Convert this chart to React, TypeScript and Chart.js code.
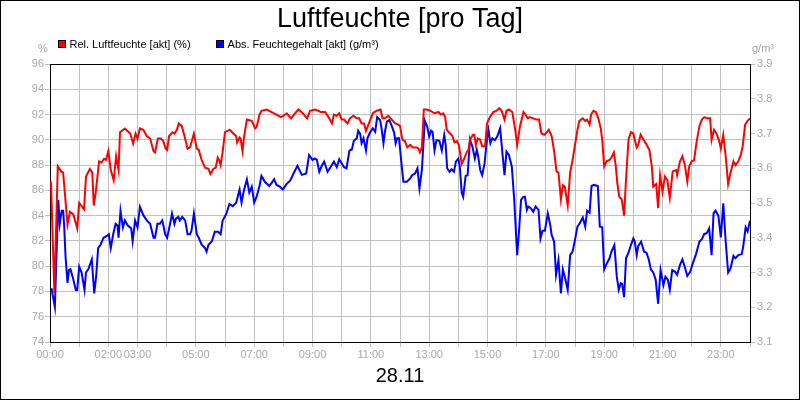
import { useEffect, useRef } from 'react';
import Chart from 'chart.js/auto';

// time of day in minutes
const relTimes = [
  2, 9, 16, 23, 27, 36, 41, 48, 56, 60, 70, 74, 82, 87, 90, 94, 101, 106, 111, 115,
  120, 125, 131, 136, 141, 144, 154, 165, 171, 176, 180, 185, 192, 199, 206, 213, 216, 222, 228, 233,
  238, 241, 245, 252, 256, 261, 265, 271, 276, 283, 288, 296, 302, 306, 312, 319, 326, 330, 336, 341,
  345, 348, 351, 355, 360, 370, 377, 383, 385, 390, 392, 396, 399, 405, 415, 422, 425, 431, 435, 446,
  456, 466, 475, 480, 487, 496, 504, 511, 520, 529, 535, 545, 552, 557, 566, 573, 580, 584, 590, 595,
  600, 605, 612, 617, 624, 631, 636, 641, 646, 650, 657, 664, 672, 680, 684, 689, 696, 703, 710, 717,
  720, 725, 730, 735, 741, 747, 754, 758, 761, 765, 769, 775, 782, 791, 799, 804, 809, 813, 816, 823,
  828, 832, 837, 841, 847, 852, 857, 861, 864, 870, 873, 876, 880, 885, 889, 895, 899, 905, 912, 919,
  924, 929, 935, 939, 944, 951, 957, 961, 967, 974, 978, 983, 987, 994, 1001, 1006, 1011, 1017, 1022, 1026,
  1032, 1037, 1042, 1046, 1051, 1055, 1059, 1065, 1070, 1075, 1080, 1085, 1089, 1096, 1101, 1105, 1110, 1113, 1118, 1123,
  1128, 1133, 1136, 1140, 1145, 1151, 1155, 1160, 1164, 1167, 1171, 1176, 1181, 1185, 1190, 1195, 1200, 1203, 1207, 1210,
  1215, 1221, 1226, 1233, 1238, 1241, 1247, 1251, 1255, 1260, 1265, 1270, 1275, 1281, 1288, 1290, 1296, 1301, 1306, 1311,
  1315, 1320, 1325, 1330, 1336, 1341, 1346, 1352, 1358, 1361, 1366, 1371, 1376, 1380, 1385, 1390, 1395, 1400, 1406, 1410,
  1416, 1421, 1425, 1430, 1435, 1440,
];
const relValues = [
  86.7, 77.9, 87.9, 87.5, 87.4, 83.3, 84.3, 84.1, 83.0, 85.0, 84.5, 87.1, 87.7, 87.4, 84.8, 85.8, 88.3, 88.2, 88.5, 88.4,
  89.1, 87.6, 86.8, 88.7, 87.6, 90.6, 90.9, 90.5, 89.7, 90.5, 90.1, 90.9, 90.8, 90.3, 90.1, 89.1, 89.0, 90.1, 90.1, 89.9,
  89.3, 89.2, 90.3, 90.6, 90.5, 90.8, 91.3, 91.1, 90.4, 89.3, 89.4, 90.5, 89.3, 89.2, 88.4, 87.8, 87.7, 87.3, 87.7, 87.8,
  88.6, 88.4, 88.0, 89.0, 90.6, 90.8, 90.5, 90.3, 89.8, 90.2, 90.1, 89.1, 90.2, 91.6, 91.5, 90.9, 91.0, 92.0, 92.3, 92.4,
  92.2, 92.0, 91.8, 91.9, 92.1, 91.7, 92.1, 92.4, 92.1, 91.7, 92.3, 92.4, 92.3, 92.2, 92.2, 91.8, 91.3, 92.0, 91.9, 92.1,
  91.6, 91.6, 91.3, 91.7, 91.9, 91.7, 91.7, 91.3, 91.3, 90.7, 91.4, 92.1, 92.3, 92.4, 91.7, 91.7, 91.9, 91.6, 91.3, 91.2,
  91.1, 90.0, 89.9, 89.4, 89.6, 89.4, 89.4, 89.3, 89.0, 89.4, 92.4, 92.4, 92.3, 92.1, 92.2, 92.0, 92.1, 91.8, 90.8, 90.5,
  90.3, 89.8, 89.9, 89.6, 88.1, 88.5, 89.0, 89.2, 90.0, 90.4, 90.4, 89.6, 90.1, 90.0, 89.5, 89.5, 91.3, 91.8, 92.2, 92.3,
  92.5, 92.3, 91.6, 92.3, 92.4, 92.2, 90.8, 89.6, 91.1, 92.2, 92.0, 91.7, 91.8, 91.7, 91.6, 91.6, 90.5, 90.4, 90.6, 90.8,
  90.3, 89.1, 87.5, 87.4, 85.3, 86.4, 86.3, 84.8, 87.4, 88.4, 89.6, 90.8, 91.5, 91.7, 91.5, 91.6, 91.2, 92.0, 92.3, 92.2,
  91.7, 90.9, 90.0, 87.9, 88.3, 88.4, 88.6, 89.0, 87.9, 86.6, 85.5, 85.3, 84.0, 86.9, 90.0, 90.6, 90.5, 90.0, 89.4, 89.6,
  90.4, 90.0, 89.7, 89.2, 87.9, 86.3, 86.5, 84.6, 87.2, 85.9, 87.1, 86.8, 85.4, 87.5, 87.6, 87.2, 88.3, 88.7, 88.0, 86.7,
  87.9, 88.3, 88.4, 89.8, 91.1, 91.6, 91.8, 91.7, 91.7, 90.0, 90.8, 90.5, 90.0, 89.3, 90.4, 88.7, 86.5, 87.4, 88.3, 88.0,
  88.3, 88.8, 89.5, 91.2, 91.5, 91.7,
];

const absTimes = [
  3, 10, 17, 20, 24, 27, 29, 32, 36, 39, 42, 48, 53, 56, 60, 65, 71, 74, 79, 86,
  91, 95, 99, 104, 110, 117, 121, 125, 130, 135, 139, 141, 145, 150, 154, 160, 167, 170, 175, 180,
  185, 192, 199, 206, 213, 216, 221, 226, 231, 237, 241, 247, 251, 256, 259, 264, 267, 272, 278, 283,
  288, 291, 296, 302, 306, 312, 319, 322, 326, 333, 339, 346, 351, 355, 363, 369, 376, 383, 390, 394,
  399, 405, 410, 415, 420, 425, 431, 435, 442, 451, 456, 461, 466, 473, 479, 487, 494, 501, 509, 518,
  527, 533, 540, 545, 549, 554, 559, 564, 571, 577, 584, 590, 595, 600, 605, 610, 616, 621, 625, 631,
  634, 638, 641, 645, 650, 653, 658, 664, 669, 673, 679, 682, 686, 689, 693, 698, 703, 708, 711, 714,
  718, 720, 723, 727, 734, 741, 745, 751, 756, 760, 765, 771, 776, 780, 784, 787, 791, 795, 801, 806,
  811, 814, 817, 822, 826, 831, 835, 840, 843, 847, 850, 855, 859, 864, 869, 874, 878, 881, 885, 889,
  894, 898, 902, 906, 910, 915, 920, 926, 930, 935, 939, 944, 950, 955, 961, 965, 969, 974, 977, 981,
  984, 989, 994, 999, 1005, 1009, 1013, 1018, 1024, 1029, 1032, 1037, 1041, 1046, 1051, 1055, 1059, 1065, 1070, 1075,
  1080, 1085, 1090, 1096, 1101, 1105, 1110, 1114, 1119, 1127, 1131, 1136, 1140, 1145, 1151, 1155, 1161, 1166, 1170, 1174,
  1177, 1181, 1185, 1190, 1195, 1200, 1203, 1207, 1210, 1216, 1222, 1227, 1232, 1236, 1241, 1246, 1251, 1256, 1262, 1266,
  1271, 1275, 1280, 1286, 1290, 1296, 1301, 1306, 1311, 1317, 1322, 1329, 1336, 1341, 1346, 1351, 1356, 1361, 1365, 1369,
  1375, 1380, 1385, 1390, 1395, 1400, 1406, 1410, 1416, 1423, 1426, 1431, 1435, 1440,
];
const absValues = [
  3.255, 3.2, 3.509, 3.44, 3.478, 3.478, 3.44, 3.345, 3.27, 3.307, 3.31, 3.28, 3.25, 3.25, 3.317, 3.3, 3.25, 3.3, 3.31, 3.338,
  3.24, 3.29, 3.37, 3.38, 3.4, 3.405, 3.41, 3.37, 3.41, 3.44, 3.435, 3.4, 3.478, 3.43, 3.45, 3.435, 3.427, 3.39, 3.45, 3.43,
  3.489, 3.465, 3.45, 3.44, 3.4, 3.4, 3.44, 3.44, 3.45, 3.41, 3.4, 3.44, 3.47, 3.44, 3.455, 3.46, 3.45, 3.46, 3.45, 3.41,
  3.41, 3.42, 3.47, 3.41, 3.4, 3.38, 3.37, 3.36, 3.38, 3.39, 3.417, 3.417, 3.41, 3.449, 3.47, 3.497, 3.491, 3.501, 3.539, 3.501,
  3.537, 3.568, 3.53, 3.547, 3.501, 3.518, 3.549, 3.578, 3.561, 3.549, 3.558, 3.568, 3.552, 3.547, 3.539, 3.555, 3.564, 3.585, 3.607, 3.581,
  3.585, 3.638, 3.624, 3.628, 3.624, 3.59, 3.607, 3.619, 3.59, 3.603, 3.619, 3.603, 3.626, 3.614, 3.603, 3.6, 3.651, 3.654, 3.679, 3.686,
  3.708, 3.699, 3.672, 3.686, 3.651, 3.686, 3.702, 3.715, 3.705, 3.747, 3.739, 3.715, 3.672, 3.705, 3.734, 3.739, 3.722, 3.702, 3.672, 3.686,
  3.686, 3.657, 3.614, 3.561, 3.561, 3.571, 3.58, 3.585, 3.6, 3.542, 3.595, 3.737, 3.72, 3.691, 3.708, 3.705, 3.651, 3.681, 3.679, 3.651,
  3.696, 3.667, 3.6, 3.59, 3.597, 3.59, 3.619, 3.628, 3.605, 3.53, 3.518, 3.578, 3.58, 3.683, 3.662, 3.628, 3.653, 3.633, 3.595, 3.58,
  3.614, 3.672, 3.71, 3.672, 3.686, 3.681, 3.691, 3.715, 3.654, 3.58, 3.648, 3.638, 3.605, 3.509, 3.35, 3.422, 3.509, 3.518, 3.518, 3.48,
  3.49, 3.485, 3.475, 3.49, 3.48, 3.398, 3.42, 3.42, 3.47, 3.437, 3.408, 3.389, 3.293, 3.336, 3.24, 3.309, 3.288, 3.25, 3.35, 3.36,
  3.394, 3.432, 3.442, 3.459, 3.432, 3.478, 3.472, 3.549, 3.552, 3.549, 3.432, 3.43, 3.309, 3.325, 3.341, 3.36, 3.379, 3.288, 3.25, 3.269,
  3.267, 3.229, 3.341, 3.357, 3.379, 3.398, 3.389, 3.35, 3.376, 3.389, 3.36, 3.357, 3.336, 3.309, 3.3, 3.279, 3.21, 3.307, 3.264, 3.288,
  3.279, 3.25, 3.307, 3.302, 3.293, 3.322, 3.338, 3.315, 3.29, 3.302, 3.325, 3.353, 3.389, 3.396, 3.411, 3.413, 3.427, 3.35, 3.47, 3.478,
  3.463, 3.401, 3.499, 3.389, 3.3, 3.312, 3.348, 3.341, 3.35, 3.353, 3.374, 3.43, 3.418, 3.449,
];

// hours that carry a label on the time axis
const labeledHours = [0, 2, 3, 5, 7, 9, 11, 13, 15, 17, 19, 21, 23];

const TITLE = 'Luftfeuchte [pro Tag]';
const DAY = '28.11';
const REL_LABEL = 'Rel. Luftfeuchte [akt] (%)';
const ABS_LABEL = 'Abs. Feuchtegehalt [akt] (g/m³)';
const LEFT_UNIT = '%';
const RIGHT_UNIT = 'g/m³';

const FONT = '"Liberation Sans", Arial, sans-serif';
const TICK_GRAY = '#a8a8a8';
const GRID_GRAY = '#c0c0c0';

const decorPlugin = {
  id: 'decor',
  afterDraw(chart: any) {
    const { ctx, chartArea, width, height } = chart;
    ctx.save();
    // outer frame and top edge of the plot
    ctx.strokeStyle = '#000';
    ctx.lineWidth = 1;
    ctx.strokeRect(0.5, 0.5, width - 1, height - 1);
    ctx.beginPath();
    ctx.moveTo(chartArea.left, chartArea.top + 0.5);
    ctx.lineTo(chartArea.right, chartArea.top + 0.5);
    ctx.stroke();

    ctx.fillStyle = '#000';
    ctx.textAlign = 'center';
    ctx.textBaseline = 'alphabetic';
    ctx.font = `27px ${FONT}`;
    ctx.fillText(TITLE, width / 2, 27);

    // legend
    ctx.font = `11px ${FONT}`;
    ctx.textAlign = 'left';
    ctx.textBaseline = 'middle';
    let x = 58.5;
    chart.data.datasets.forEach((ds: any) => {
      ctx.fillStyle = ds.borderColor;
      ctx.fillRect(x, 40.5, 7, 7);
      ctx.strokeStyle = '#000';
      ctx.strokeRect(x, 40.5, 7, 7);
      ctx.fillStyle = '#000';
      ctx.fillText(ds.label, x + 11, 45);
      x += 11 + ctx.measureText(ds.label).width + 26;
    });

    // axis units
    ctx.fillStyle = TICK_GRAY;
    ctx.textAlign = 'center';
    ctx.fillText(LEFT_UNIT, 43, 49);
    ctx.fillText(RIGHT_UNIT, 763, 49);
    ctx.restore();
  },
};

const App = () => {
  const canvasRef = useRef<HTMLCanvasElement>(null);
  const chartRef = useRef<Chart | null>(null);

  useEffect(() => {
    document.body.style.margin = '0';
    if (!canvasRef.current) return;
    if (chartRef.current) chartRef.current.destroy();

    const tickFont = { family: FONT, size: 11 };

    chartRef.current = new Chart(canvasRef.current, {
      type: 'line',
      data: {
        datasets: [
          {
            label: REL_LABEL,
            data: relTimes.map((t, i) => ({ x: t, y: relValues[i] })),
            borderColor: '#ff0000',
            backgroundColor: '#ff0000',
            borderWidth: 2,
            pointRadius: 0,
            tension: 0,
            yAxisID: 'y',
          },
          {
            label: ABS_LABEL,
            data: absTimes.map((t, i) => ({ x: t, y: absValues[i] })),
            borderColor: '#0000ff',
            backgroundColor: '#0000ff',
            borderWidth: 2,
            pointRadius: 0,
            tension: 0,
            yAxisID: 'y1',
          },
        ],
      },
      options: {
        responsive: false,
        animation: false,
        layout: { padding: { top: 64, left: 0, right: 0, bottom: 0 } },
        plugins: {
          legend: { display: false },
          title: { display: false },
          tooltip: { enabled: false },
        },
        scales: {
          x: {
            type: 'linear',
            min: 0,
            max: 1440,
            afterFit: (scale: any) => {
              scale.height = 58;
            },
            ticks: {
              stepSize: 60,
              autoSkip: false,
              maxRotation: 0,
              padding: 1,
              color: TICK_GRAY,
              font: tickFont,
              callback: (v: any) => {
                const h = Math.round(Number(v) / 60);
                return labeledHours.includes(h) && Number(v) % 60 === 0
                  ? `${String(h).padStart(2, '0')}:00`
                  : '';
              },
            },
            grid: { color: GRID_GRAY, tickColor: GRID_GRAY, tickLength: 5 },
            border: { color: '#000' },
            title: {
              display: true,
              text: DAY,
              color: '#000',
              font: { family: FONT, size: 20 },
              padding: { top: 0, bottom: 12 },
            },
          },
          y: {
            position: 'left',
            min: 74,
            max: 96,
            afterFit: (scale: any) => {
              scale.width = 50;
            },
            ticks: { stepSize: 2, padding: 1, color: TICK_GRAY, font: tickFont },
            grid: { color: GRID_GRAY, tickColor: GRID_GRAY, tickLength: 5 },
            border: { color: '#000' },
          },
          y1: {
            position: 'right',
            min: 3.1,
            max: 3.9,
            afterFit: (scale: any) => {
              scale.width = 50;
            },
            ticks: {
              stepSize: 0.1,
              padding: 2,
              color: TICK_GRAY,
              font: tickFont,
              callback: (v: any) => Number(v).toFixed(1),
            },
            grid: { drawOnChartArea: false, tickColor: GRID_GRAY, tickLength: 5 },
            border: { color: '#000' },
          },
        },
      },
      plugins: [decorPlugin],
    });

    return () => {
      if (chartRef.current) {
        chartRef.current.destroy();
        chartRef.current = null;
      }
    };
  }, []);

  return (
    <div style={{ width: 800, height: 400, background: '#fff' }}>
      <canvas ref={canvasRef} width={800} height={400} />
    </div>
  );
};

export default App;
